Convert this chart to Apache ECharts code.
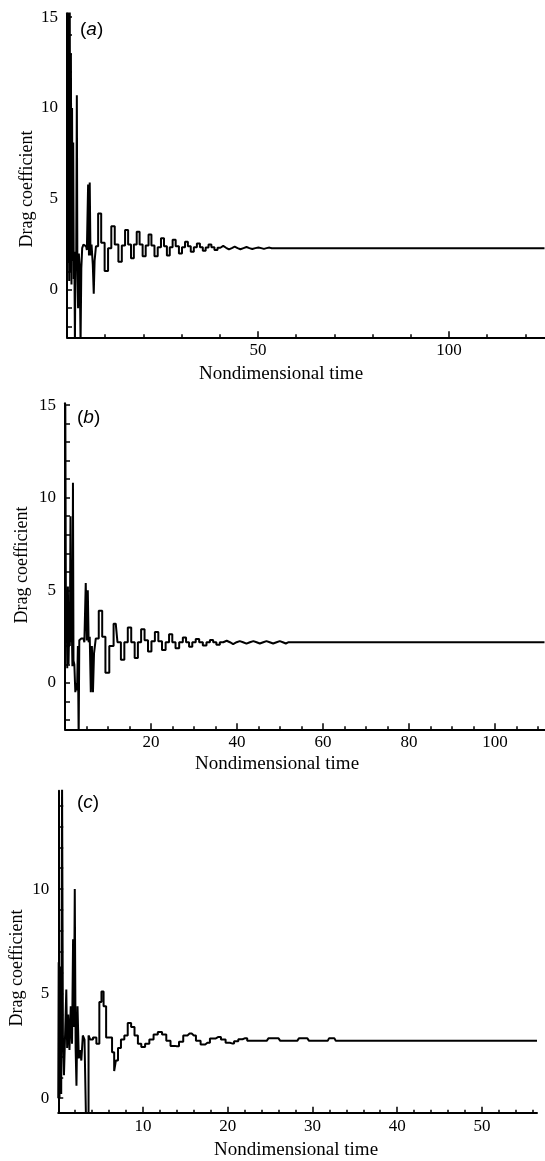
<!DOCTYPE html>
<html><head><meta charset="utf-8">
<script src="https://cdn.jsdelivr.net/npm/echarts@6/dist/echarts.min.js"></script>
<style>html,body{margin:0;padding:0;background:#fff}#c{width:545px;height:1161px}</style>
</head><body><div id="c"></div>
<script>
// ---- data: [nondimensional time, drag coefficient] ----
const panelA = [[0,0],[0.2,15.5],[0.35,1.5],[0.5,15.5],[0.65,0.5],[0.8,15.5],[0.95,1.0],[1.1,13],[1.25,0.3],[1.4,10],[1.55,1.6],[1.7,8.1],[1.85,0.6],[2.0,2.0],[2.15,-3],[2.3,2.1],[2.5,1.2],[2.65,10.7],[2.8,1.0],[3.0,-1.0],[3.2,2.0],[3.45,1.2],[3.65,-3],[3.85,1.2],[4.1,2.3],[4.5,2.5],[5.0,2.4],[5.4,2.2],[5.65,5.8],[5.85,1.9],[6.05,5.9],[6.25,1.9],[6.6,2.5],[6.9,1.4],[7.1,-0.2],[7.35,1.6],[7.8,2.4],[8.5,4.2],[9.4,2.6],[10.3,1.05],[11.2,2.3],[12.0,3.5],[13.0,2.5],[13.9,1.55],[14.8,2.45],[15.6,3.3],[16.4,2.5],[17.1,1.75],[17.9,2.5],[18.6,3.2],[19.4,2.5],[20.2,1.85],[21.0,2.45],[21.7,3.05],[22.5,2.45],[23.3,1.85],[24.2,2.35],[25.0,2.85],[25.8,2.4],[26.5,1.9],[27.3,2.35],[28.0,2.76],[28.9,2.4],[29.7,2.0],[30.5,2.35],[31.3,2.65],[32.0,2.4],[32.8,2.1],[33.6,2.35],[34.4,2.56],[35.2,2.35],[35.9,2.15],[36.7,2.33],[37.4,2.5],[38.2,2.35],[39.0,2.2],[39.8,2.32],[40.5,2.42],[41.3,2.32],[42.0,2.23],[42.8,2.3],[43.5,2.38],[44.3,2.3],[45.0,2.24],[45.8,2.3],[46.6,2.36],[47.4,2.3],[48.1,2.25],[48.9,2.3],[49.7,2.34],[50.5,2.3],[51.2,2.26],[51.9,2.3],[52.6,2.33],[53.4,2.29],[53.8,2.29],[125,2.29]];
const panelB = [[0,0.5],[0.15,15],[0.3,3.0],[0.45,5.0],[0.6,0.8],[0.75,5.2],[0.9,1.0],[1.05,3.2],[1.2,2.0],[1.35,9.0],[1.5,2.2],[1.65,3.1],[1.8,0.9],[1.9,10.8],[2.05,1.2],[2.3,1.0],[2.5,-0.5],[2.7,0.0],[2.9,-0.4],[3.1,2.0],[3.25,-3],[3.4,2.3],[3.8,2.4],[4.3,2.4],[4.7,2.2],[4.95,5.4],[5.2,2.3],[5.4,5.0],[5.6,2.2],[5.9,2.5],[6.1,-0.5],[6.4,2.0],[6.6,-0.5],[6.9,1.6],[7.4,2.4],[8.3,3.9],[9.0,2.5],[9.8,0.55],[10.8,2.0],[11.8,3.2],[12.6,2.2],[13.4,1.25],[14.2,2.2],[15.0,3.0],[15.8,2.2],[16.6,1.35],[17.3,2.2],[18.1,2.9],[18.9,2.3],[19.7,1.7],[20.5,2.25],[21.3,2.75],[22.1,2.25],[23.0,1.78],[23.8,2.2],[24.6,2.63],[25.3,2.2],[26.1,1.87],[27.0,2.2],[27.8,2.45],[28.5,2.2],[29.2,1.96],[30.0,2.2],[30.8,2.38],[31.6,2.2],[32.5,2.02],[33.3,2.2],[34.1,2.32],[34.8,2.2],[35.6,2.06],[36.4,2.2],[37.2,2.28],[38.0,2.2],[38.7,2.1],[39.5,2.2],[40.3,2.26],[41.0,2.2],[41.8,2.12],[42.6,2.2],[43.4,2.26],[44.2,2.2],[44.9,2.13],[45.7,2.2],[46.5,2.26],[47.2,2.2],[48.0,2.13],[48.8,2.2],[49.6,2.26],[50.3,2.2],[51.0,2.13],[51.7,2.2],[52.0,2.2],[111.5,2.2]];
const panelC = [[0,0],[0.1,6.5],[0.2,0.0],[0.3,6.3],[0.4,0.2],[0.5,15],[0.6,3.0],[0.75,1.1],[0.9,3.3],[1.0,5.2],[1.1,2.4],[1.25,4.0],[1.4,2.3],[1.55,4.4],[1.7,2.6],[1.8,7.6],[1.9,3.4],[2.0,10.0],[2.1,2.4],[2.2,0.6],[2.35,4.4],[2.5,1.9],[2.65,2.3],[2.8,1.8],[3.0,3.0],[3.2,2.8],[3.35,-1.0],[3.5,-1.0],[3.65,3.0],[3.9,2.8],[4.3,2.9],[4.7,2.6],[5.0,4.6],[5.2,5.1],[5.5,4.4],[5.8,2.9],[6.2,2.9],[6.5,2.2],[6.7,1.3],[6.9,1.8],[7.2,2.4],[7.6,2.8],[8.0,3.0],[8.4,3.6],[8.8,3.4],[9.2,3.0],[9.6,2.6],[10.0,2.45],[10.5,2.6],[11.0,2.8],[11.5,3.05],[12.0,3.17],[12.5,3.05],[13.0,2.75],[13.5,2.5],[14.0,2.48],[14.5,2.7],[15.0,3.0],[15.5,3.09],[16.0,3.0],[16.5,2.75],[17.1,2.57],[17.6,2.65],[18.2,2.85],[18.9,2.93],[19.5,2.8],[20.0,2.65],[20.5,2.62],[21.0,2.72],[21.5,2.82],[22.0,2.86],[22.6,2.74],[24.6,2.74],[25.0,2.86],[26.0,2.86],[26.4,2.74],[28.2,2.74],[28.6,2.86],[29.4,2.86],[29.8,2.74],[31.8,2.74],[32.1,2.86],[32.6,2.86],[32.9,2.74],[33.2,2.74],[56.5,2.74]];

// ---- ticks and labels ----
const xMajorA = [50, 100];
const xMinorA = [10, 20, 30, 40, 60, 70, 80, 90, 110, 120];
const xMajorB = [20, 40, 60, 80, 100];
const xMinorB = [5, 10, 15, 25, 30, 35, 45, 50, 55, 65, 70, 75, 85, 90, 95, 105, 110];
const xMajorC = [10, 20, 30, 40, 50];
const xMinorC = [2, 4, 6, 8, 12, 14, 16, 18, 22, 24, 26, 28, 32, 34, 36, 38, 42, 44, 46, 48, 52, 54, 56];
const yLabelsAB = [0, 5, 10, 15];
const yTicksAB = [-2, -1, 0, 1, 2, 3, 4, 5, 6, 7, 8, 9, 10, 11, 12, 13, 14, 15];
const yLabelsC = [0, 5, 10];
const yTicksC = [0, 1, 2, 3, 4, 5, 6, 7, 8, 9, 10, 11, 12, 13, 14];
const panelTags = ['a', 'b', 'c'];
const yName = 'Drag coefficient';
const xName = 'Nondimensional time';

const SERIF = '"Liberation Serif","DejaVu Serif",serif';
const grids = [
  {left: 67, top: 13.4, width: 477.5, height: 323.9},
  {left: 65, top: 403.2, width: 479.5, height: 326.1},
  {left: 58.25, top: 790.8, width: 478.75, height: 322}
];
const ranges = [
  {xmin: 0, xmax: 125, ymin: -2.6, ymax: 15.2, xMaj: xMajorA, xMin: xMinorA, yLab: yLabelsAB, yTk: yTicksAB},
  {xmin: 0, xmax: 111.5, ymin: -2.5, ymax: 15.1, xMaj: xMajorB, xMin: xMinorB, yLab: yLabelsAB, yTk: yTicksAB},
  {xmin: 0, xmax: 56.5, ymin: -0.7, ymax: 14.7, xMaj: xMajorC, xMin: xMinorC, yLab: yLabelsC, yTk: yTicksC}
];
const datas = [panelA, panelB, panelC];

const xAxis = [], yAxis = [], series = [];
ranges.forEach((r, i) => {
  xAxis.push({
    type: 'value', gridIndex: i, position: 'bottom', min: r.xmin, max: r.xmax,
    axisLine: {show: true, onZero: false, lineStyle: {color: '#000', width: 2}},
    axisTick: {show: true, inside: true, length: 6, customValues: r.xMaj, lineStyle: {color: '#000', width: 1.5}},
    axisLabel: {show: true, customValues: r.xMaj, color: '#000', fontFamily: SERIF, fontSize: 17, margin: 5},
    splitLine: {show: false}
  });
  xAxis.push({
    type: 'value', gridIndex: i, position: 'bottom', offset: 0, min: r.xmin, max: r.xmax,
    axisLine: {show: false, onZero: false},
    axisTick: {show: true, inside: true, length: 3, customValues: r.xMin, lineStyle: {color: '#000', width: 1.5}},
    axisLabel: {show: false},
    splitLine: {show: false}
  });
  yAxis.push({
    type: 'value', gridIndex: i, position: 'left', min: r.ymin, max: r.ymax,
    axisLine: {show: true, onZero: false, lineStyle: {color: '#000', width: 2}},
    axisTick: {show: true, inside: true, length: 5, customValues: r.yTk, lineStyle: {color: '#000', width: 1.5}},
    axisLabel: {show: true, customValues: r.yLab, color: '#000', fontFamily: SERIF, fontSize: 17, margin: 9},
    splitLine: {show: false}
  });
  series.push({
    type: 'line', xAxisIndex: i * 2, yAxisIndex: i, data: datas[i],
    step: 'middle', showSymbol: false, clip: true, silent: true,
    lineStyle: {color: '#000', width: 2}
  });
});

const namePos = [
  {yx: 27, yy: 189, xx: 281, xy: 374, tx: 80, ty: 30},
  {yx: 22, yy: 565, xx: 277, xy: 764, tx: 77, ty: 418},
  {yx: 17, yy: 968, xx: 296, xy: 1150, tx: 77, ty: 803}
];
const graphic = [];
namePos.forEach((p, i) => {
  graphic.push({type: 'text', x: p.yx, y: p.yy, rotation: Math.PI / 2,
    style: {text: yName, font: '18px ' + SERIF, fill: '#000', align: 'center', verticalAlign: 'middle'}});
  graphic.push({type: 'text', x: p.xx, y: p.xy,
    style: {text: xName, font: '19px ' + SERIF, fill: '#000', align: 'center', verticalAlign: 'middle'}});
  graphic.push({type: 'text', x: p.tx, y: p.ty,
    style: {text: '({it|' + panelTags[i] + '})', font: '19px "Liberation Sans",Arial,sans-serif', fill: '#000',
      align: 'left', verticalAlign: 'middle',
      rich: {it: {fontStyle: 'italic', fontSize: 19, fontFamily: '"Liberation Sans",Arial,sans-serif'}}}});
});

const chart = echarts.init(document.getElementById('c'), null, {renderer: 'canvas'});
chart.setOption({
  animation: false,
  backgroundColor: '#fff',
  grid: grids.map(g => Object.assign({outerBoundsMode: 'none', containLabel: false}, g)),
  xAxis, yAxis, series, graphic
});
</script></body></html>
